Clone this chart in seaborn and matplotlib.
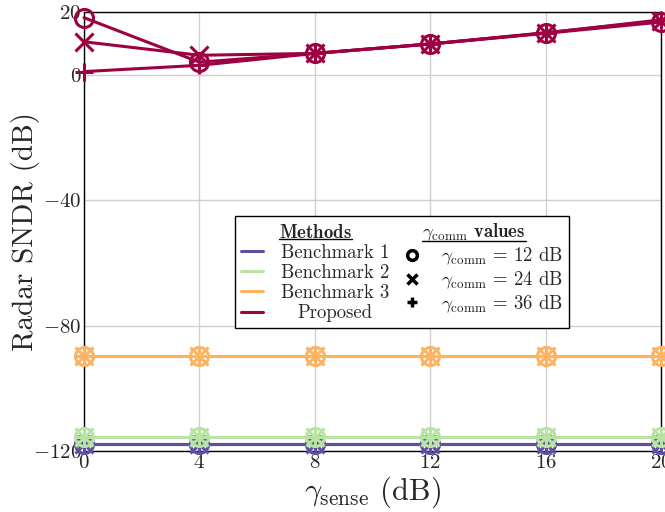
import pandas as pd
import matplotlib
matplotlib.use('Agg')
import matplotlib.pyplot as plt
from matplotlib.lines import Line2D
import seaborn as sns


# x axis: sensing SNR (dB)
gamma_sense = [0, 4, 8, 12, 16, 20]

# Radar SNDR (dB), benchmarks do not depend on gamma_comm
bench1 = [-117.8, -117.8, -117.8, -117.8, -117.8, -117.8]
bench2 = [-115.6, -115.6, -115.6, -115.6, -115.6, -115.6]
bench3 = [-89.8, -89.8, -89.8, -89.8, -89.8, -89.8]

# Proposed, one list per gamma_comm
proposed_12 = [18.2, 4.0, 6.8, 9.8, 13.2, 16.8]
proposed_24 = [10.5, 6.2, 6.8, 9.8, 13.4, 17.2]
proposed_36 = [1.0, 3.0, 6.8, 9.8, 13.3, 17.5]

methods = ['Benchmark 1', 'Benchmark 2', 'Benchmark 3', 'Proposed']
gamma_comm = [12, 24, 36]

colors = {'Benchmark 1': '#5e4fa2', 'Benchmark 2': '#b9e3a3',
          'Benchmark 3': '#fdb462', 'Proposed': '#9e0142'}
markers = {12: 'o', 24: 'x', 36: '+'}


def build_frame():
    rows = []
    values = {
        ('Benchmark 1', 12): bench1, ('Benchmark 1', 24): bench1, ('Benchmark 1', 36): bench1,
        ('Benchmark 2', 12): bench2, ('Benchmark 2', 24): bench2, ('Benchmark 2', 36): bench2,
        ('Benchmark 3', 12): bench3, ('Benchmark 3', 24): bench3, ('Benchmark 3', 36): bench3,
        ('Proposed', 12): proposed_12, ('Proposed', 24): proposed_24, ('Proposed', 36): proposed_36,
    }
    for (m, g), ys in values.items():
        for x, y in zip(gamma_sense, ys):
            rows.append({'method': m, 'gcomm': g, 'x': x, 'y': y})
    return pd.DataFrame(rows)


def main():
    sns.set_style('whitegrid')
    plt.rcParams.update({
        'font.family': 'serif',
        'font.serif': ['cmr10'],
        'mathtext.fontset': 'cm',
        'axes.formatter.use_mathtext': True,
        'axes.edgecolor': 'black',
        'axes.linewidth': 1.0,
        'grid.color': '#d0d0d0',
        'grid.linewidth': 1.0,
    })

    df = build_frame()

    fig = plt.figure(figsize=(6.65, 5.12), dpi=100)
    ax = fig.add_axes([84 / 665, 61 / 512, 577 / 665, 439 / 512])

    for m in methods:
        for g in gamma_comm:
            sub = df[(df.method == m) & (df.gcomm == g)]
            sns.lineplot(data=sub, x='x', y='y', ax=ax, color=colors[m],
                         marker=markers[g], markersize=13, mec=colors[m],
                         mfc='none', mew=2.2, linewidth=2.2, legend=False,
                         clip_on=False, zorder=3)

    ax.set_xlim(0, 20)
    ax.set_ylim(-120, 20)
    ax.set_xticks(gamma_sense)
    ax.set_yticks([20, 0, -40, -80, -120])
    ax.tick_params(labelsize=15, length=0, pad=2)
    ax.set_xlabel(r'$\gamma_{\mathrm{sense}}$ (dB)', fontsize=22, labelpad=2)
    ax.set_ylabel('Radar SNDR (dB)', fontsize=21)
    ax.yaxis.set_label_coords(-0.076, 0.5)
    for s in ax.spines.values():
        s.set_color('black')

    # legend: methods column + gamma_comm column, each with a header row
    blank = Line2D([], [], linestyle='none')
    handles = [blank]
    labels = [r'$\mathbf{Methods}$']
    for m in methods:
        handles.append(Line2D([], [], color=colors[m], linewidth=2.2))
        labels.append(m)
    handles.append(blank)
    labels.append(r'$\gamma_{\mathrm{comm}}$ $\mathbf{values}$')
    for g in gamma_comm:
        handles.append(Line2D([], [], color='black', linestyle='none',
                              marker=markers[g], markersize=7, mew=2.5,
                              mfc='none'))
        labels.append(r'$\gamma_{\mathrm{comm}}$ = %d dB' % g)

    leg = ax.legend(handles, labels, ncol=2, loc='upper left',
                    bbox_to_anchor=(0.262, 0.535), borderaxespad=0,
                    fontsize=13.5, frameon=True, fancybox=False,
                    edgecolor='black', framealpha=1, handlelength=1.2,
                    handletextpad=0.95, columnspacing=0.6, labelspacing=0.12,
                    borderpad=0.3)
    leg.get_frame().set_linewidth(1.0)

    fig.canvas.draw()
    texts = leg.get_texts()
    fs_px = 13.5 * fig.dpi / 72
    hand_px = (1.2 + 0.95) * fs_px

    # centre the method names in their column, and the headers over the columns
    for head, body in ((0, [1, 2, 3, 4]), (5, [6, 7, 8])):
        widths = [texts[i].get_window_extent().width for i in body]
        x_start = texts[body[0]].get_window_extent().x0
        w_max = max(widths)
        if head == 0:
            for i, w in zip(body, widths):
                texts[i].set_x((w_max - w) / 2)
        col_center = (x_start - hand_px + x_start + w_max) / 2
        hb = texts[head].get_window_extent()
        texts[head].set_x(col_center - (hb.x0 + hb.x1) / 2 - (head == 5) * 8)

    # underline the two header entries
    fig.canvas.draw()
    inv = fig.transFigure.inverted()
    for t in (texts[0], texts[5]):
        bb = t.get_window_extent()
        (x0, y0), (x1, _) = inv.transform([[bb.x0, bb.y0 + 2.5], [bb.x1, bb.y1]])
        fig.add_artist(Line2D([x0, x1], [y0, y0],
                              transform=fig.transFigure, color='black',
                              linewidth=1.0))

    fig.savefig('out.png', dpi=100)


if __name__ == '__main__':
    main()
